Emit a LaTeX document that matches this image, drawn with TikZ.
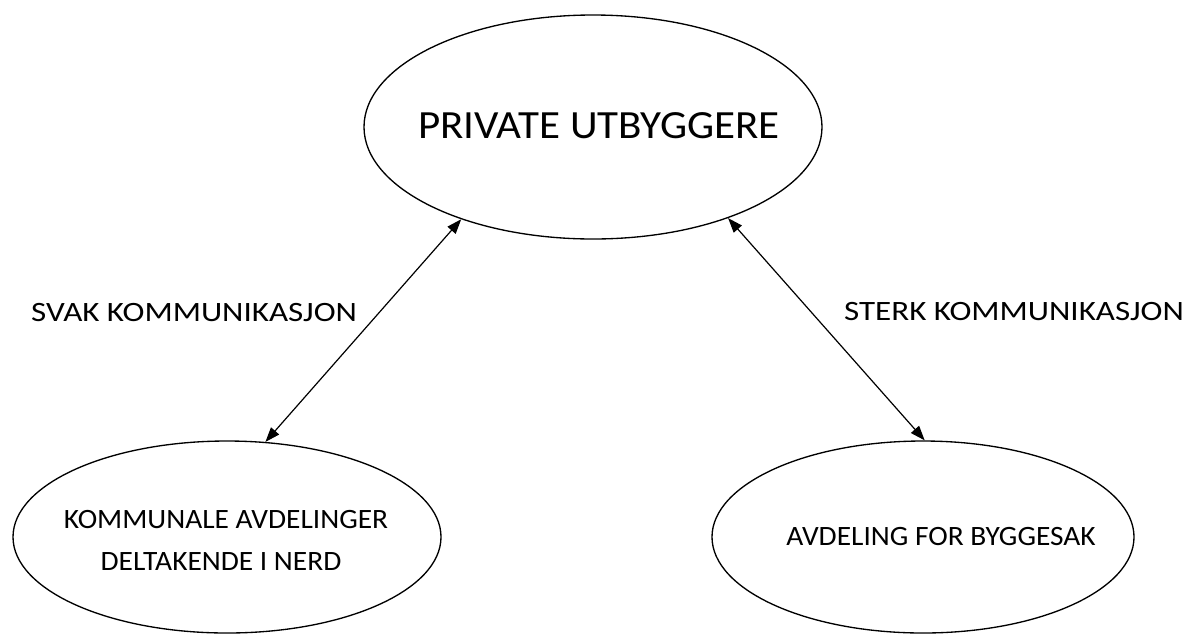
\documentclass[tikz,border=0pt]{standalone}
\usepackage{fontspec}
\setmainfont{Carlito}
\newfontfamily\labelfont[FakeStretch=1.18]{Carlito}
\newfontfamily\ovalfont[FakeStretch=1.05]{Carlito}
\newfontfamily\topfont[FakeStretch=1.075]{Carlito}
\usetikzlibrary{shapes.geometric,arrows.meta}
\tikzset{
  oval/.style={draw=black, line width=1pt, ellipse, inner sep=0pt, fill=white},
  big/.style={font=\topfont\fontsize{30}{36}\selectfont, inner sep=0pt},
  small/.style={font=\ovalfont\fontsize{21}{31.5}\selectfont, inner sep=0pt},
  lbl/.style={font=\labelfont\fontsize{21}{31.5}\selectfont, inner sep=0pt},
  link/.style={line width=0.9pt, {Triangle[length=11pt,width=8pt]}-{Triangle[length=11pt,width=8pt]}}
}
\begin{document}
\begin{tikzpicture}[x=0.75pt, y=-0.75pt]
\path[fill=white, use as bounding box] (0,0) rectangle (1188,633);
\node[oval, minimum width=343.5pt, minimum height=168pt] (top) at (593,127) {};
\node[oval, minimum width=321pt, minimum height=144pt] (left) at (227,537) {};
\node[oval, minimum width=316.5pt, minimum height=144pt] (right) at (923,537) {};
\node[big, anchor=base] (toptext) at (599,138) {PRIVATE UTBYGGERE};
\node[small, anchor=base] (lefttext1) at (226,528) {KOMMUNALE AVDELINGER};
\node[small, anchor=base] (lefttext2) at (221,570) {DELTAKENDE I NERD};
\node[small, anchor=base] (righttext) at (941,545) {AVDELING FOR BYGGESAK};
\node[lbl, anchor=base] (svak) at (194,321) {SVAK KOMMUNIKASJON};
\node[lbl, anchor=base] (sterk) at (1014,320) {STERK KOMMUNIKASJON};
\draw[link] (top.215) -- (left.68);
\draw[link] (top.326) -- (right.89);
\end{tikzpicture}
\end{document}
